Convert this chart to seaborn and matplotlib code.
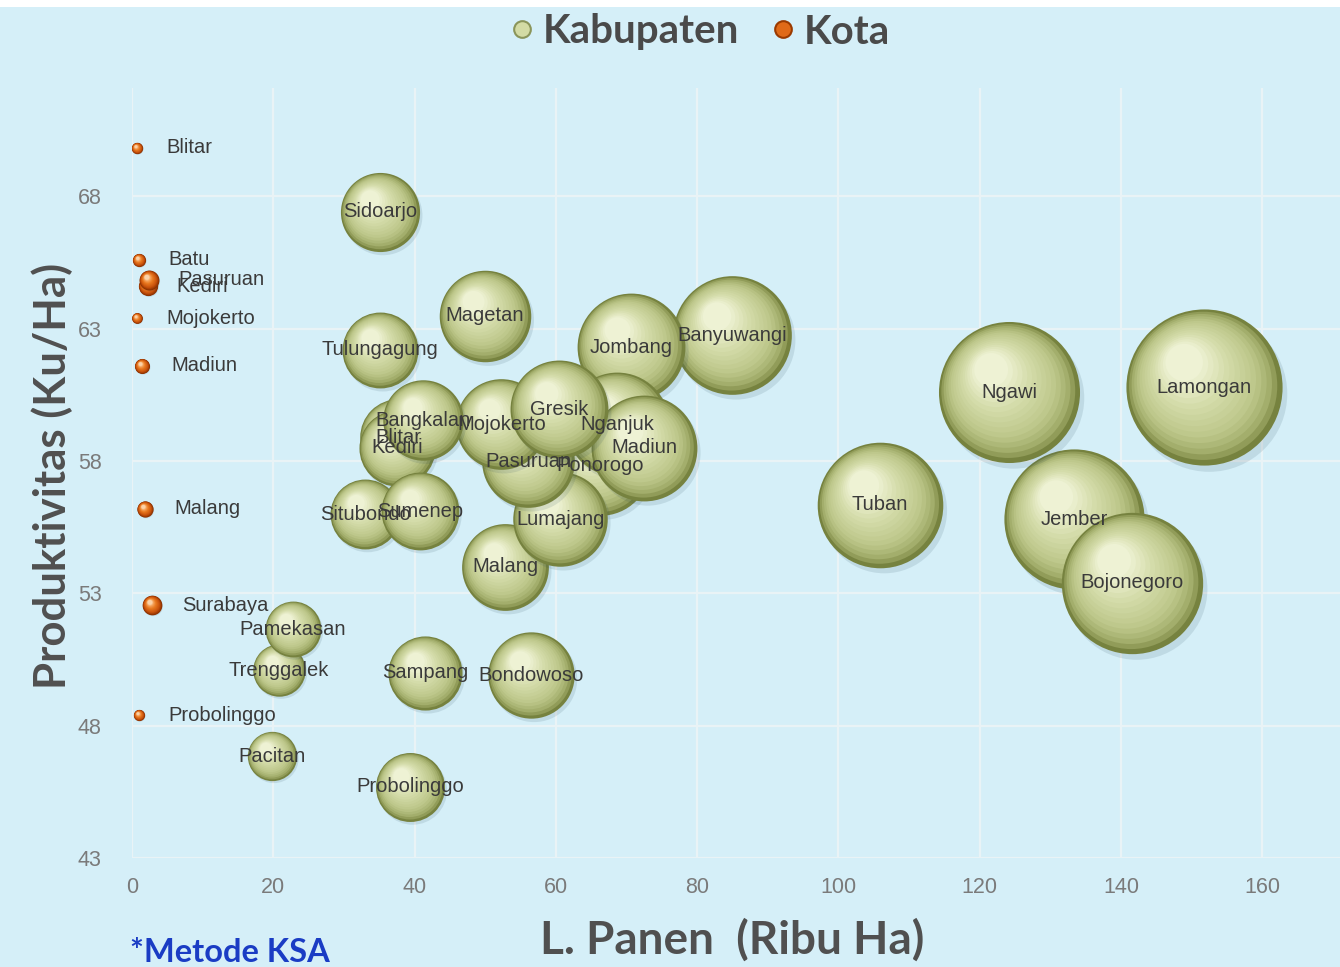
import numpy as np
import pandas as pd
import matplotlib
matplotlib.use("Agg")
import matplotlib.pyplot as plt
from matplotlib.path import Path
from matplotlib.lines import Line2D
from matplotlib.patches import Rectangle
from matplotlib.colors import LinearSegmentedColormap
import seaborn as sns

# ---------------- data ----------------
kab_names = ["Pacitan", "Ponorogo", "Trenggalek", "Tulungagung", "Blitar", "Kediri",
             "Malang", "Lumajang", "Jember", "Banyuwangi", "Bondowoso", "Situbondo",
             "Probolinggo", "Pasuruan", "Sidoarjo", "Mojokerto", "Jombang", "Nganjuk",
             "Madiun", "Magetan", "Ngawi", "Bojonegoro", "Tuban", "Lamongan", "Gresik",
             "Bangkalan", "Sampang", "Pamekasan", "Sumenep"]
kab_luas = [19.8, 66.3, 20.8, 35.1, 37.7, 37.5, 52.8, 60.6, 133.4, 85.0, 56.5, 33.0,
            39.4, 56.1, 35.1, 52.3, 70.6, 68.7, 72.5, 49.9, 124.2, 141.6, 105.9, 151.8,
            60.5, 41.2, 41.5, 22.8, 40.8]
kab_prod = [46.85, 57.85, 50.1, 62.2, 58.9, 58.5, 54.0, 55.8, 55.8, 62.75, 49.9, 56.0,
            45.7, 58.0, 67.43, 59.4, 62.3, 59.4, 58.5, 63.5, 60.6, 53.4, 56.35, 60.8,
            59.95, 59.55, 50.0, 51.65, 56.1]
kab_size = [92, 383, 104, 218, 222, 219, 285, 338, 744, 533, 282, 185, 180, 325, 237,
            311, 440, 408, 424, 317, 753, 756, 597, 923, 363, 245, 208, 118, 229]

kota_names = ["Kediri", "Blitar", "Malang", "Probolinggo", "Pasuruan", "Mojokerto",
              "Madiun", "Surabaya", "Batu"]
kota_luas = [2.2, 0.7, 1.8, 1.0, 2.4, 0.7, 1.4, 2.9, 1.0]
kota_prod = [64.6, 69.85, 56.2, 48.4, 64.85, 63.4, 61.6, 52.55, 65.6]
kota_size = [14.0, 4.9, 10.0, 4.8, 15.0, 4.4, 8.6, 14.7, 6.6]

x_ticks = [0, 20, 40, 60, 80, 100, 120, 140, 160]
y_ticks = [43, 48, 53, 58, 63, 68]

kab = pd.DataFrame({"wilayah": kab_names, "luas": kab_luas, "prod": kab_prod,
                    "size": kab_size})
kota = pd.DataFrame({"wilayah": kota_names, "luas": kota_luas, "prod": kota_prod,
                     "size": kota_size})

# ---------------- style ----------------
sns.set_theme(style="white")
plt.rcParams["font.family"] = ["Liberation Sans", "DejaVu Sans"]

BG = "#d5eff8"
fig = plt.figure(figsize=(13.4, 9.67), dpi=100, facecolor=BG)
ax = fig.add_axes([132 / 1340, 1 - 858 / 967, 1 - 132 / 1340, (858 - 88) / 967])
ax.set_facecolor(BG)

# sphere marker paths (bound box fixed so offsets scale with size)
BOUND = 1.25


def circle_marker(cx, cy, r):
    c = Path.circle((cx, cy), r)
    bounds = Path([(-BOUND, -BOUND), (BOUND, BOUND)], [Path.MOVETO, Path.MOVETO])
    return Path.make_compound_path(bounds, c)


NL = 16
layers = []
for i in range(NL):
    t = i / (NL - 1)
    layers.append((t, circle_marker(-0.26 * t, 0.32 * t, 1.0 - 0.76 * t)))
shadow = circle_marker(0.06, -0.08, 1.0)

cmap_kab = LinearSegmentedColormap.from_list(
    "kab", [(0, "#76823f"), (0.1, "#9ea966"), (0.3, "#bcc689"),
            (0.65, "#d3dba8"), (1, "#eef2d4")])
cmap_kota = LinearSegmentedColormap.from_list(
    "kota", [(0, "#8a3000"), (0.25, "#c8520c"), (0.6, "#e8781f"),
             (0.85, "#f5a25a"), (1, "#fbd2a8")])

PMAX = 1000.0
SMAX = 21.4 * PMAX  # area in pt^2 for PMAX (incl. bound factor)


def draw_bubbles(df, cmap):
    for i in range(len(df)):
        row = df.iloc[[i]]
        sns.scatterplot(data=row, x="luas", y="prod", size="size",
                        size_norm=(0, PMAX), sizes=(0, SMAX), marker=shadow,
                        color="#305060", alpha=0.13, linewidth=0, legend=False, ax=ax,
                        zorder=3)
        for t, mk in layers:
            sns.scatterplot(data=row, x="luas", y="prod", size="size",
                            size_norm=(0, PMAX), sizes=(0, SMAX), marker=mk,
                            color=cmap(t), linewidth=0, legend=False, ax=ax,
                            zorder=3)


draw_bubbles(kab, cmap_kab)
draw_bubbles(kota, cmap_kota)

# labels
lab_col = "#3a3a3a"
for _, r in kab.iterrows():
    ax.text(r["luas"], r["prod"], r["wilayah"], ha="center", va="center",
            fontsize=14.5, color=lab_col, zorder=10)
for _, r in kota.iterrows():
    ax.annotate(r["wilayah"], (r["luas"], r["prod"]), xytext=(21, 0),
                textcoords="offset points", ha="left", va="center",
                fontsize=14.5, color=lab_col, zorder=10)

# axes
ax.set_xlim(0, 171)
ax.set_ylim(43, 72.1)
ax.set_xticks(x_ticks)
ax.set_yticks(y_ticks)
ax.grid(True, color="#e9f3f6", linewidth=1.6, zorder=0)
ax.set_axisbelow(True)
for s in ax.spines.values():
    s.set_visible(False)
ax.tick_params(axis="both", length=0, labelsize=15.5, labelcolor="#7a7a7a")
ax.tick_params(axis="x", pad=14)
ax.tick_params(axis="y", pad=22)
ax.set_xlabel("")
ax.set_ylabel("")

fig.text(732 / 1340, 1 - 940 / 967, "L. Panen  (Ribu Ha)", ha="center", va="center",
         fontsize=33, fontweight="bold", color="#505050", family=["Lato", "DejaVu Sans"])
fig.text(52 / 1340, 1 - 476 / 967, "Produktivitas (Ku/Ha)", ha="center", va="center",
         rotation=90, fontsize=31.5, fontweight="bold", color="#505050",
         family=["Lato", "DejaVu Sans"])
fig.text(130 / 1340, 1 - 952 / 967, "*Metode KSA", ha="left", va="center",
         fontsize=23.5, fontweight="bold", color="#1a3cc4", family=["Lato", "DejaVu Sans"])

# legend
handles = [Line2D([], [], marker="o", linestyle="none", markersize=12,
                  markerfacecolor="#d3dba4", markeredgecolor="#8a955a",
                  markeredgewidth=1.5, label="Kabupaten"),
           Line2D([], [], marker="o", linestyle="none", markersize=12,
                  markerfacecolor="#e06a18", markeredgecolor="#9a3a00",
                  markeredgewidth=1.5, label="Kota")]
fig.legend(handles=handles, loc="center", bbox_to_anchor=(694 / 1340, 1 - 32 / 967),
           ncol=2, frameon=False, handletextpad=-0.1, columnspacing=0.5,
           handlelength=1.2,
           prop={"family": ["Lato", "DejaVu Sans"], "weight": "bold", "size": 29},
           labelcolor="#4a4a4a")

# white strip at the top
fig.patches.append(Rectangle((0, 1 - 7 / 967), 1, 7 / 967, transform=fig.transFigure,
                             facecolor="white", edgecolor="none", zorder=-1))

fig.savefig("out.png", dpi=100, facecolor=BG)
